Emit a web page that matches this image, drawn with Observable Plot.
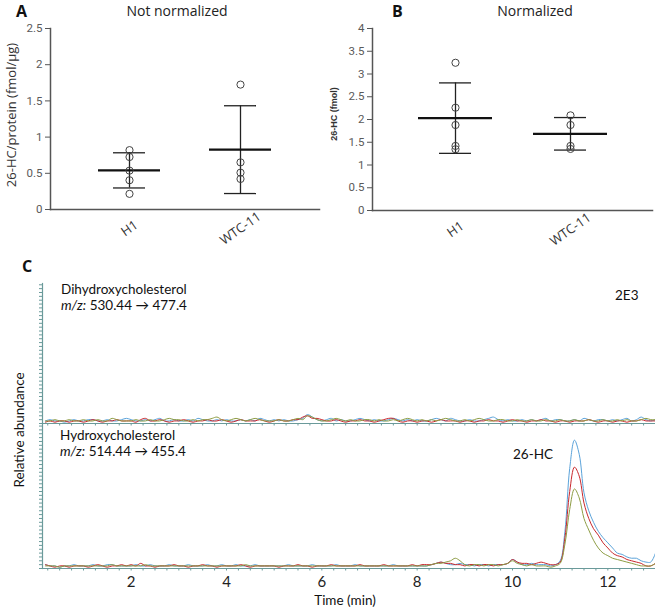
<!DOCTYPE html>
<html>
<head>
<meta charset="utf-8">
<script src="https://cdn.jsdelivr.net/npm/d3@7"></script>
<script src="https://cdn.jsdelivr.net/npm/@observablehq/plot@0.6"></script>
<style>
  body { margin: 0; background: #fff; }
  #fig { position: relative; width: 655px; height: 611px; overflow: hidden; background: #fff; color: #222; }
  #fig svg { position: absolute; overflow: visible; }
  .lbl { position: absolute; white-space: nowrap; line-height: 1; }
  .letter { font-family: "Open Sans", sans-serif; font-weight: bold; font-size: 16px; color: #111; }
  .title { font-family: "Open Sans", sans-serif; font-size: 14px; color: #222; }
  .trace { font-family: Lato, "Open Sans", sans-serif; font-size: 13.5px; color: #111; }
</style>
</head>
<body>
<div id="fig"></div>
<script>
// ---- Panels A and B: 26-HC per cell line ----
const groups = ["H1", "WTC-11"];
const notNormalizedH1 = [0.82, 0.725, 0.537, 0.404, 0.216];
const notNormalizedWTC = [1.725, 0.651, 0.509, 0.422];
const normalizedH1 = [3.247, 2.26, 1.879, 1.419, 1.346];
const normalizedWTC = [2.091, 1.879, 1.419, 1.353];
const yTicksA = [0, 0.5, 1, 1.5, 2, 2.5];
const yTicksB = [0, 0.5, 1, 1.5, 2, 2.5, 3, 3.5, 4];

// ---- Panel C: MRM chromatograms, one scan every 0.1 min from 0.2 min ----
const scanStart = 0.2;
const scanStep = 0.1;
const replicates = ["Replicate 1", "Replicate 2", "Replicate 3"];
const traceColors = ["#5ba3da", "#c9282d", "#8e9d45"];
const timeTicks = [2, 4, 6, 8, 10, 12];

// Dihydroxycholesterol, m/z 530.44 -> 477.4
const dihydroxyRep1 = [
  2,3,2,2,1,2,3,2,
  2,3,3,2,2,3,2,2,3,4,
  3,2,2,3,2,3,4,2,2,3,
  2,2,3,2,4,3,2,2,3,2,
  3,2,2,3,2,3,2,4,3,2,
  3,2,3,2,2,3,4,7,5,3,
  2,3,4,2,3,2,2,3,4,3,
  2,3,2,2,3,4,3,2,3,2,
  3,2,2,3,4,3,2,4,3,2,
  2,3,2,2,3,4,5,3,2,3,
  2,2,3,2,3,2,3,4,2,3,
  3,2,2,3,2,4,3,2,3,3,
  2,3,2,3,4,2,3,5,3,2,
  3];
const dihydroxyRep2 = [
  1,2,1,2,2,1,2,2,
  1,2,3,2,1,2,2,3,2,2,
  2,1,3,4,2,2,3,2,1,2,
  2,3,2,1,2,2,3,2,2,3,
  2,1,2,3,2,2,2,3,2,1,
  2,3,2,2,3,3,5,6,4,4,
  3,2,2,3,2,1,2,2,3,2,
  2,1,2,3,4,4,2,1,2,2,
  1,2,2,1,2,3,2,2,2,1,
  2,2,1,2,2,3,2,2,1,2,
  3,2,2,1,2,2,3,2,2,1,
  2,2,1,2,2,2,3,2,1,2,
  2,1,2,2,1,2,2,3,2,2,
  2];
const dihydroxyRep3 = [
  2,2,3,2,2,3,2,2,
  3,2,2,3,2,2,4,3,2,2,
  2,3,2,2,3,2,2,3,4,3,
  3,2,2,3,2,3,3,4,5,3,
  2,3,4,3,2,3,4,3,2,2,
  2,3,2,2,3,4,3,6,5,3,
  2,2,3,4,3,2,3,2,2,3,
  3,2,3,2,2,3,2,3,4,3,
  2,3,2,3,2,3,4,3,2,2,
  3,2,3,4,3,2,2,3,3,2,
  2,3,2,2,3,2,2,3,2,2,
  3,2,2,3,2,2,3,2,2,3,
  2,2,3,2,3,2,2,3,4,3,
  3];

// Hydroxycholesterol, m/z 514.44 -> 455.4 (26-HC elutes near 11.3 min)
const hydroxyRep1 = [
  3,2,2,1,2,2,3,2,
  2,2,3,2,2,3,3,2,2,2,
  2,3,2,2,3,2,2,2,3,2,
  2,2,3,2,2,2,3,2,2,3,
  2,2,3,2,2,2,3,2,2,2,
  2,2,2,3,2,2,2,2,3,2,
  2,2,2,3,2,2,2,3,2,2,
  2,2,2,2,2,3,2,2,2,2,
  2,2,2,3,4,5,4,3,3,4,
  3,3,2,3,3,2,3,3,3,4,
  7,5,3,3,4,3,3,3,2,3,
  6,29,78,100,89,59,45,36,29,24,
  20,16,12,11,9,8,8,6,5,5,
  12];
const hydroxyRep2 = [
  3,2,1,2,2,1,2,2,
  2,1,2,3,2,1,2,2,3,2,
  3,2,4,2,2,1,2,2,2,3,
  2,2,1,2,2,3,2,2,1,2,
  2,2,2,3,2,1,2,2,2,2,
  2,1,2,2,2,3,2,2,1,2,
  2,2,3,2,2,2,2,2,3,2,
  2,2,2,3,2,2,2,2,2,3,
  2,3,3,3,4,5,4,4,3,3,
  2,3,3,2,3,3,2,3,3,4,
  7,5,4,4,3,4,5,4,3,3,
  5,24,60,79,72,51,39,31,26,20,
  16,12,10,9,7,6,5,4,2,2,
  4];
const hydroxyRep3 = [
  2,2,2,1,2,2,2,2,
  2,2,2,2,2,2,3,2,2,2,
  2,2,2,3,2,2,2,2,2,2,
  2,2,2,2,2,2,2,2,2,2,
  2,2,2,2,3,2,2,2,2,2,
  2,2,2,2,2,2,2,2,2,2,
  2,2,2,2,2,2,2,2,2,2,
  2,2,2,2,2,2,2,2,2,2,
  2,2,2,3,4,4,5,6,8,6,
  3,2,3,3,2,3,3,2,3,4,
  6,4,3,2,3,2,2,2,1,2,
  4,19,46,62,55,39,30,22,16,12,
  10,8,7,6,5,4,3,2,2,2,
  4];

const fig = document.getElementById("fig");

function addText(html, x, y, cls, css = "", anchor = "start", rotate = 0) {
  const el = document.createElement("div");
  el.className = "lbl " + cls;
  el.innerHTML = html;
  el.style.cssText = `left:${x}px;top:${y}px;${css}`;
  const tx = anchor === "middle" ? "-50%" : anchor === "end" ? "-100%" : "0";
  el.style.transform = `translate(${tx}, -50%)` + (rotate ? ` rotate(${rotate}deg)` : "");
  fig.appendChild(el);
}

function place(svg, left, top) {
  svg.style.left = left + "px";
  svg.style.top = top + "px";
  fig.appendChild(svg);
}

// Scatter of replicates with mean and SD bars
function replicatePanel(seriesValues, cfg) {
  const points = groups.flatMap((g, i) => seriesValues[i].map(v => ({group: g, value: v})));
  const stats = groups.map((g, i) => ({
    group: g,
    mean: d3.mean(seriesValues[i]),
    sd: d3.deviation(seriesValues[i])
  }));
  return Plot.plot({
    width: cfg.width,
    height: 250,
    marginLeft: cfg.marginLeft,
    marginRight: cfg.marginRight,
    marginTop: 28,
    marginBottom: cfg.marginBottom,
    style: {fontFamily: "Roboto, 'Liberation Sans', sans-serif", fontSize: "11.5px", background: "transparent", color: "#5a5a5a"},
    x: {type: "band", domain: groups, paddingInner: cfg.paddingInner, paddingOuter: cfg.paddingOuter, label: null},
    y: {domain: cfg.yDomain, label: null},
    marks: [
      Plot.axisY({ticks: cfg.yTicks, tickSize: 5, tickPadding: 3, tickFormat: d => String(d), stroke: "#555", fill: "#5a5a5a", label: null}),
      Plot.axisX({tickSize: 0, tickRotate: -35, textAnchor: "middle", lineAnchor: "middle", tickPadding: 19, fontSize: 13, fill: "#333", fontFamily: "'Open Sans', sans-serif", label: null}),
      Plot.frame({anchor: "left", stroke: "#555", strokeWidth: 1.5}),
      Plot.frame({anchor: "bottom", stroke: "#555", strokeWidth: 1.5}),
      Plot.ruleX(stats, {x: "group", y1: d => d.mean - d.sd, y2: d => d.mean + d.sd, stroke: "#222", strokeWidth: 1.3}),
      Plot.tickY(stats, {x: "group", y: d => d.mean + d.sd, inset: cfg.capInset, stroke: "#222", strokeWidth: 1.3}),
      Plot.tickY(stats, {x: "group", y: d => d.mean - d.sd, inset: cfg.capInset, stroke: "#222", strokeWidth: 1.3}),
      Plot.tickY(stats, {x: "group", y: "mean", stroke: "#111", strokeWidth: 2.3}),
      Plot.dot(points, {x: "group", y: "value", r: 3.6, stroke: "#444", strokeWidth: 1, fill: "none"})
    ]
  });
}

place(replicatePanel([notNormalizedH1, notNormalizedWTC], {
  width: 325, marginLeft: 50, marginRight: 6, marginBottom: 41,
  paddingInner: 0.44, paddingOuter: 0.43, capInset: 15,
  yDomain: [0, 2.5], yTicks: yTicksA
}), 0, 0);

place(replicatePanel([normalizedH1, normalizedWTC], {
  width: 330, marginLeft: 47, marginRight: 3, marginBottom: 40,
  paddingInner: 0.36, paddingOuter: 0.39, capInset: 21,
  yDomain: [0, 4], yTicks: yTicksB
}), 325, 0);

// Chromatogram traces
const axisColor = "#6a9a9a";
function traceRows(seriesList) {
  return seriesList.flatMap((values, k) =>
    values.map((v, i) => ({time: scanStart + i * scanStep, abundance: v, replicate: replicates[k]})));
}
const minorTimes = d3.range(0.25, 13.01, 0.25);
const colorScale = {domain: replicates, range: traceColors};

function tracePanel(seriesList, cfg) {
  return Plot.plot({
    width: 655,
    height: cfg.height,
    marginLeft: 42,
    marginRight: 0,
    marginTop: cfg.marginTop,
    marginBottom: cfg.marginBottom,
    style: {fontFamily: "Lato, 'Open Sans', sans-serif", fontSize: "15px", background: "transparent", color: "#222"},
    x: {domain: [0.14, 13.0], label: null},
    y: {domain: cfg.yDomain, label: null},
    color: colorScale,
    marks: [
      Plot.axisY({ticks: d3.range(cfg.yDomain[0], cfg.yDomain[1], 3), tickSize: 3, tickFormat: () => "", stroke: axisColor, label: null}),
      Plot.axisX({ticks: minorTimes, tickSize: 2.5, tickFormat: () => "", stroke: axisColor, label: null}),
      ...(cfg.labels ? [Plot.axisX({ticks: timeTicks, tickSize: 0, tickPadding: 8, fontSize: 15, fill: "#222", label: null})] : []),
      Plot.frame({anchor: "left", stroke: axisColor, strokeWidth: 1.2}),
      Plot.frame({anchor: "bottom", stroke: axisColor, strokeWidth: 1.2}),
      Plot.line(traceRows(seriesList), {x: "time", y: "abundance", z: "replicate", stroke: "replicate", strokeWidth: 1, curve: "catmull-rom"})
    ]
  });
}

place(tracePanel([dihydroxyRep1, dihydroxyRep2, dihydroxyRep3], {
  height: 146, marginTop: 5, marginBottom: 1, yDomain: [0, 109], labels: false
}), 0, 278);

place(tracePanel([hydroxyRep1, hydroxyRep2, hydroxyRep3], {
  height: 188, marginTop: 0, marginBottom: 43, yDomain: [0, 113], labels: true
}), 0, 423);

// Panel letters, titles and axis labels
addText("A", 16, 11, "letter");
addText("Not normalized", 177, 11, "title", "", "middle");
addText("B", 392, 11, "letter");
addText("Normalized", 535, 11, "title", "", "middle");
addText("C", 22, 266, "letter");
addText("26-HC/protein (fmol/µg)", 11, 115, "title", "font-size:13px;color:#333;", "middle", -90);
addText("26-HC (fmol)", 334, 114, "title", "font-size:9px;font-weight:bold;color:#333;font-family:'Liberation Sans Narrow','Liberation Sans',sans-serif;", "middle", -90);
addText("Dihydroxycholesterol", 61, 290, "trace");
addText("<i>m/z:</i> 530.44 → 477.4", 61, 306, "trace");
addText("2E3", 615, 296, "trace");
addText("Hydroxycholesterol", 60, 436, "trace");
addText("<i>m/z:</i> 514.44 → 455.4", 60, 452, "trace");
addText("26-HC", 533, 455, "trace", "", "middle");
addText("Relative abundance", 20, 430, "trace", "", "middle", -90);
addText("Time (min)", 345, 601, "trace", "", "middle");
</script>
</body>
</html>
